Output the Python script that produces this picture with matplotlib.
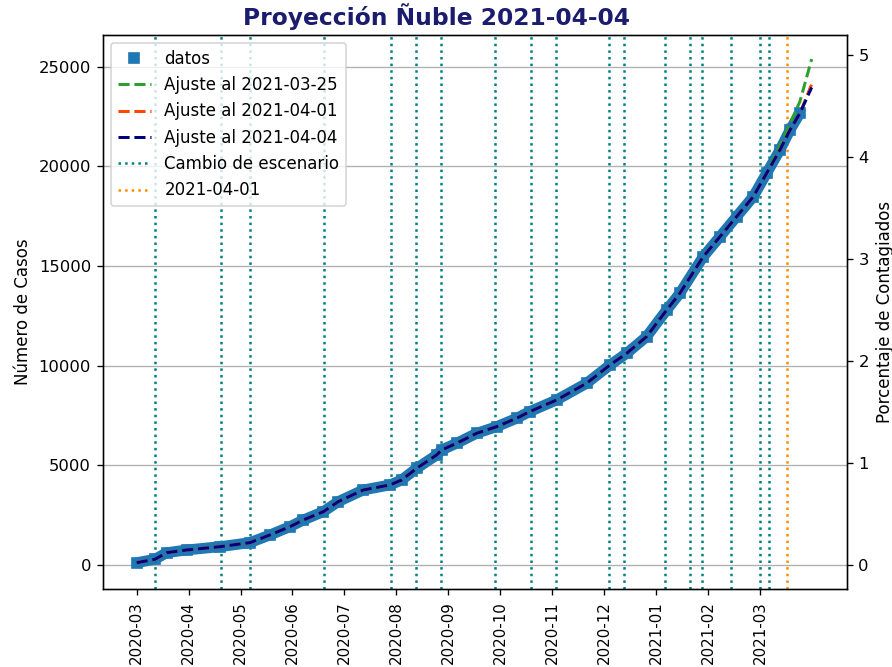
import matplotlib
matplotlib.use("Agg")
import matplotlib.pyplot as plt

# ---------------- data (days since 2020-03-01, as placed on the axis) ----------------
dias = [0, 10.7, 17.6, 29.3, 48.8, 66.3, 78.0, 89.8, 97.6, 109.3, 118.1, 132.7,
        148.3, 155.2, 164.0, 175.7, 178.6, 187.4, 199.1, 210.8, 222.5, 230.3,
        245.9, 263.5, 277.2, 287.0, 298.6, 310.4, 318.1, 331.8, 341.6, 351.3,
        361.1, 368.9, 376.7, 382.6, 388.4]
casos = [115, 286, 617, 753, 918, 1119, 1505, 1922, 2258, 2674, 3180, 3763,
         4014, 4264, 4851, 5519, 5770, 6106, 6607, 6939, 7360, 7700,
         8278, 9116, 10034, 10621, 11454, 12794, 13632, 15468, 16471, 17475,
         18478, 19652, 20821, 21824, 22662]

# fitted curves (same days plus projection end)
dias_ajuste = dias + [395.3]
ajuste_0325 = casos[:-3] + [21050, 22150, 23250, 25380]
ajuste_0401 = casos + [24124]
ajuste_0404 = casos + [23957]

cambios_escenario = [10.7, 49.4, 66.4, 109.9, 148.9, 163.5, 178.2, 209.8, 230.9,
                     245.6, 276.6, 285.4, 309.4, 324.1, 331.1, 348.1, 365.1, 370.3]
dia_corte = 380.8

tick_pos = [i * 365 / 12 for i in range(13)]
tick_labels = ["2020-03", "2020-04", "2020-05", "2020-06", "2020-07", "2020-08",
               "2020-09", "2020-10", "2020-11", "2020-12", "2021-01", "2021-02",
               "2021-03"]
poblacion = 511551

# ---------------- figure ----------------
fig = plt.figure(figsize=(892 / 120, 667 / 120), dpi=120)
ax = fig.add_axes([0.1151, 0.1165, 0.9492 - 0.1151, 0.948 - 0.1165])

ax.plot(dias, casos, color="#1f77b4", lw=6.5, solid_capstyle="butt",
        solid_joinstyle="round", zorder=2)
ax.plot(dias, casos, "s", color="#1f77b4", markersize=6.3, label="datos", zorder=2)
ax.plot(dias_ajuste, ajuste_0325, "--", color="#2ca02c", lw=1.8,
        label="Ajuste al 2021-03-25", zorder=3)
ax.plot(dias_ajuste, ajuste_0401, "--", color="orangered", lw=1.8,
        label="Ajuste al 2021-04-01", zorder=3)
ax.plot(dias_ajuste, ajuste_0404, "--", color="navy", lw=1.8,
        label="Ajuste al 2021-04-04", zorder=4)

for i, d in enumerate(cambios_escenario):
    ax.axvline(d, color="teal", ls=":", lw=1.5,
               label="Cambio de escenario" if i == 0 else None, zorder=1)
ax.axvline(dia_corte, color="darkorange", ls=":", lw=1.5, label="2021-04-01", zorder=1)

ax.set_xlim(-19.9, 415.8)
ylo, yhi = -1220, 26605
ax.set_ylim(ylo, yhi)
ax.set_xticks(tick_pos)
ax.set_xticklabels(tick_labels, rotation=90, fontsize=9)
ax.set_yticks([0, 5000, 10000, 15000, 20000, 25000])
ax.tick_params(axis="y", labelsize=9.8)
ax.grid(axis="y", color="#b0b0b0")
ax.set_ylabel("Número de Casos")
ax.legend(loc="upper left")

ax2 = ax.twinx()
ax2.set_ylim(ylo / poblacion * 100, yhi / poblacion * 100)
ax2.set_yticks([0, 1, 2, 3, 4, 5])
ax2.tick_params(axis="y", labelsize=9.8)
ax2.set_ylabel("Porcentaje de Contagiados")

fig.suptitle("Proyección Ñuble 2021-04-04", x=0.489, y=0.9745, va="center",
             fontsize=14, fontweight="bold", color="#1c1c6e")

fig.savefig("out.png", dpi=120)
